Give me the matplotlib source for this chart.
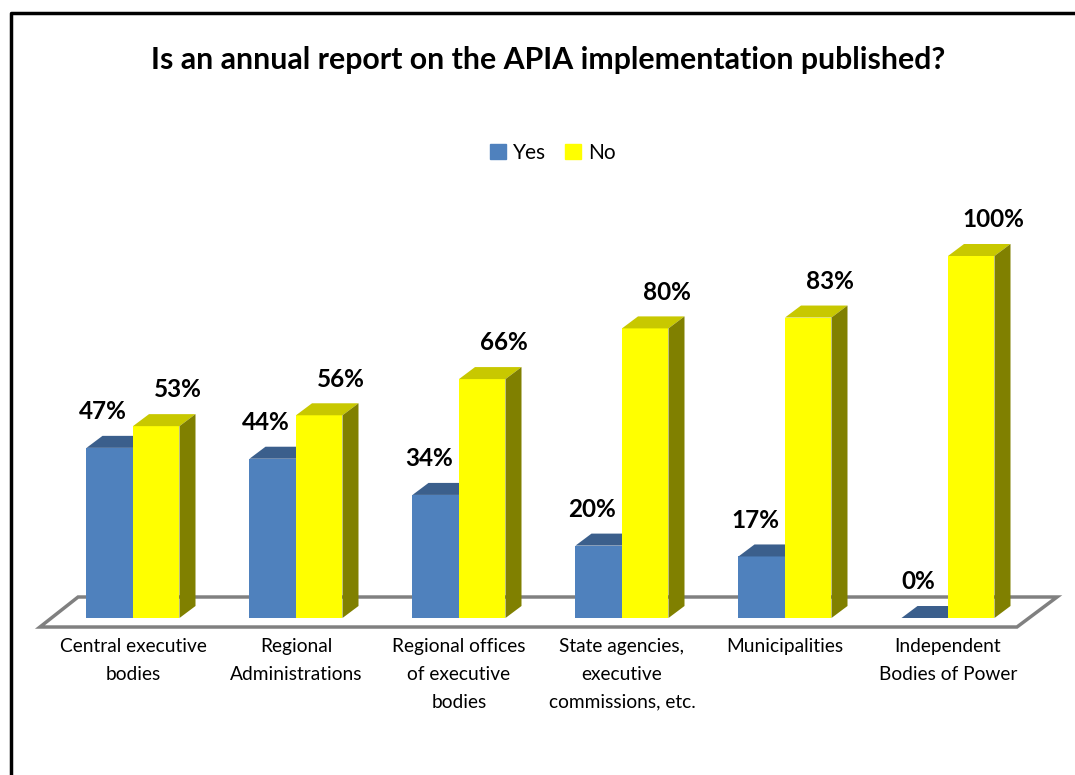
import matplotlib.pyplot as plt
from matplotlib.patches import Polygon, Patch
import numpy as np

# datos
categories = ["Central executive\nbodies", "Regional\nAdministrations",
              "Regional offices\nof executive\nbodies", "State agencies,\nexecutive\ncommissions, etc.",
              "Municipalities", "Independent\nBodies of Power"]
yes_vals = [47, 44, 34, 20, 17, 0]
no_vals = [53, 56, 66, 80, 83, 100]
series_names = ["Yes", "No"]

plt.rcParams['font.family'] = ['Lato', 'DejaVu Sans']

fig = plt.figure(figsize=(10.75, 7.75), dpi=100)
ax = fig.add_axes([0, 0, 1, 1])
ax.set_xlim(-133 / 163, 942 / 163)
ax.set_ylim(-157 / 3.62, 618 / 3.62)
ax.set_axis_off()

w = 46.5 / 163      # ancho de barra
dx = 16 / 163       # profundidad 3D
dy = 12 / 3.62

# piso
floor = Polygon([(-0.571, -2.49), (5.423, -2.49), (5.669, 5.8), (-0.337, 5.8)],
                closed=True, facecolor="white", edgecolor="#808080", lw=2.5, zorder=1)
ax.add_patch(floor)


def bar3d(x0, h, front, top, side):
    ax.bar(x0, h, width=w, align="edge", color=front, zorder=3)
    ax.add_patch(Polygon([(x0, h), (x0 + w, h), (x0 + w + dx, h + dy), (x0 + dx, h + dy)],
                         closed=True, facecolor=top, edgecolor="none", zorder=3))
    ax.add_patch(Polygon([(x0 + w, 0), (x0 + w + dx, dy), (x0 + w + dx, h + dy), (x0 + w, h)],
                         closed=True, facecolor=side, edgecolor="none", zorder=3))


x = np.arange(len(categories))
for i in x:
    bar3d(i - w, yes_vals[i], "#4F81BD", "#3B5F8C", "#2F4D73")
    bar3d(i, no_vals[i], "#FFFF00", "#C8C800", "#808000")
    ax.text(i - 30 / 163, yes_vals[i] + 10, f"{yes_vals[i]}%", ha="center", va="center",
            fontsize=17.5, fontweight="bold", zorder=5)
    ax.text(i + 45 / 163, no_vals[i] + 10, f"{no_vals[i]}%", ha="center", va="center",
            fontsize=17.5, fontweight="bold", zorder=5)
    ax.text(i, -5.5, categories[i], ha="center", va="top", fontsize=13.8, linespacing=1.78)

fig.text(548 / 1075, 1 - 60 / 775, "Is an annual report on the APIA implementation published?",
         ha="center", va="center", fontsize=21.8, fontweight="bold")

handles = [Patch(color="#4F81BD"), Patch(color="#FFFF00")]
fig.legend(handles, series_names, loc="center", bbox_to_anchor=(553 / 1075, 1 - 153 / 775),
           ncol=2, frameon=False, fontsize=15, handlelength=0.75, handleheight=0.75,
           handletextpad=0.35, columnspacing=0.9)

# borde
fig.add_artist(plt.Line2D([11 / 1075, 11 / 1075, 1.0], [0.0, 1 - 13 / 775, 1 - 13 / 775],
                          color="black", lw=2.5, transform=fig.transFigure))

fig.savefig("out.png", dpi=100)
